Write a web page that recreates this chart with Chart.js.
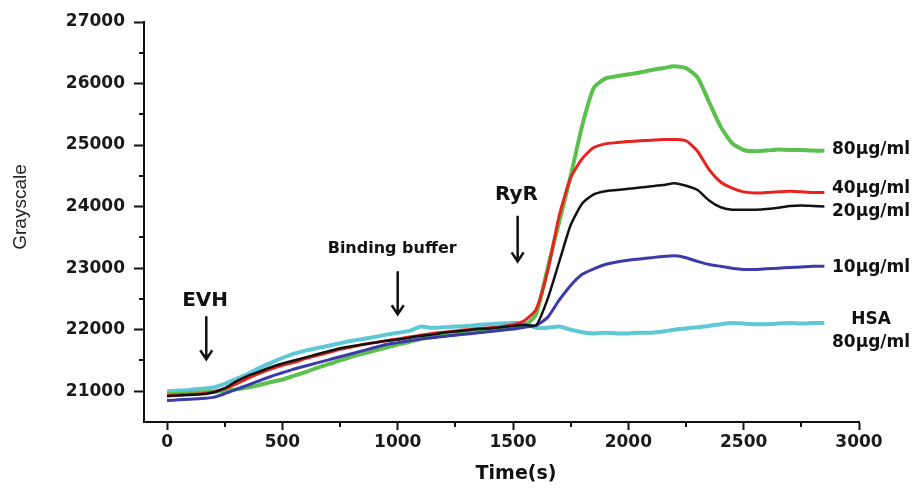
<!DOCTYPE html>
<html>
<head>
<meta charset="utf-8">
<title>Grayscale vs time</title>
<script src="https://cdn.jsdelivr.net/npm/chart.js@4.4.1/dist/chart.umd.min.js"></script>
<style>
  html, body { margin: 0; padding: 0; background: #fff; }
  #wrap { width: 919px; height: 490px; }
</style>
</head>
<body>
<div id="wrap"><canvas id="chart"></canvas></div>
<script>
// time points (s)
const times = [0, 50, 100, 150, 200, 250, 300, 350, 400, 450, 500, 550, 600, 650, 700, 750, 800, 850, 900, 950,
  1000, 1050, 1100, 1150, 1200, 1250, 1300, 1350, 1400, 1450, 1500, 1550, 1600, 1650, 1700, 1750, 1800, 1850, 1900, 1950,
  2000, 2050, 2100, 2150, 2200, 2250, 2300, 2350, 2400, 2450, 2500, 2550, 2600, 2650, 2700, 2750, 2800, 2850];

// grayscale
const evh80 = [20950, 20960, 20970, 20980, 20990, 21010, 21030, 21060, 21100, 21150, 21190, 21250, 21310, 21380, 21440, 21500, 21560, 21610, 21660, 21710,
  21760, 21800, 21850, 21880, 21910, 21940, 21960, 21980, 22000, 22020, 22040, 22060, 22250, 23000, 23750, 24500, 25320, 25930, 26080, 26120,
  26150, 26180, 26220, 26250, 26280, 26250, 26100, 25700, 25300, 25030, 24920, 24900, 24910, 24930, 24920, 24920, 24910, 24910];
const evh40 = [20930, 20940, 20950, 20960, 20990, 21040, 21120, 21210, 21290, 21360, 21420, 21470, 21530, 21580, 21630, 21680, 21720, 21760, 21790, 21820,
  21850, 21880, 21910, 21940, 21960, 21980, 22000, 22020, 22030, 22050, 22080, 22150, 22330, 22950, 23850, 24470, 24780, 24960, 25020, 25040,
  25060, 25070, 25080, 25090, 25090, 25070, 24900, 24600, 24400, 24300, 24240, 24220, 24230, 24240, 24250, 24240, 24230, 24230];
const evh20 = [20920, 20930, 20940, 20950, 20980, 21050, 21160, 21250, 21320, 21390, 21450, 21500, 21550, 21600, 21650, 21700, 21730, 21760, 21790, 21820,
  21840, 21870, 21900, 21920, 21950, 21970, 21990, 22010, 22020, 22040, 22060, 22080, 22070, 22500, 23100, 23700, 24050, 24200, 24250, 24270,
  24290, 24310, 24330, 24350, 24380, 24340, 24270, 24100, 23990, 23950, 23950, 23950, 23960, 23980, 24010, 24020, 24010, 24000];
const evh10 = [20850, 20860, 20870, 20880, 20900, 20960, 21030, 21100, 21170, 21240, 21300, 21360, 21410, 21460, 21510, 21560, 21610, 21660, 21710, 21760,
  21790, 21820, 21850, 21870, 21890, 21910, 21930, 21950, 21970, 21990, 22010, 22040, 22070, 22200, 22480, 22720, 22900, 22990, 23060, 23100,
  23130, 23150, 23170, 23190, 23200, 23170, 23110, 23060, 23030, 23000, 22980, 22980, 22990, 23000, 23010, 23020, 23030, 23030];
const hsa80 = [21000, 21010, 21020, 21040, 21060, 21120, 21200, 21280, 21380, 21460, 21540, 21610, 21660, 21700, 21740, 21780, 21820, 21850, 21880, 21920,
  21950, 21980, 22050, 22030, 22040, 22050, 22060, 22080, 22090, 22100, 22110, 22100, 22030, 22030, 22050, 22000, 21960, 21940, 21950, 21940,
  21940, 21950, 21950, 21970, 22000, 22020, 22040, 22060, 22090, 22110, 22100, 22090, 22090, 22100, 22110, 22100, 22110, 22110];

const xTicks = [0, 500, 1000, 1500, 2000, 2500, 3000];
const yTicks = [21000, 22000, 23000, 24000, 25000, 26000, 27000];

// arrows: label, x of arrow, label position, arrow top/bottom (data units)
const arrows = [
  { text: 'EVH', x: 170, tx: 165, ty: 22470, from: 22220, to: 21520, size: 20 },
  { text: 'Binding buffer', x: 1000, tx: 976, ty: 23320, from: 22950, to: 22250, size: 16 },
  { text: 'RyR', x: 1520, tx: 1515, ty: 24190, from: 23850, to: 23110, size: 20 }
];
const endLabels = [
  { text: '80\u03bcg/ml', y: 24930 },
  { text: '40\u03bcg/ml', y: 24300 },
  { text: '20\u03bcg/ml', y: 23920 },
  { text: '10\u03bcg/ml', y: 23010 },
  { text: 'HSA', y: 22170, center: true },
  { text: '80\u03bcg/ml', y: 21790 }
];

const FONT = 'DejaVu Sans';

function series(values, color, width) {
  return {
    data: times.map((t, i) => ({ x: t, y: values[i] })),
    borderColor: color,
    borderWidth: width,
    pointRadius: 0,
    tension: 0.2
  };
}

const annotatePlugin = {
  id: 'annotate',
  afterDraw(chart) {
    const ctx = chart.ctx;
    const xs = chart.scales.x, ys = chart.scales.y;
    const area = chart.chartArea;
    ctx.save();
    ctx.strokeStyle = '#111';
    ctx.lineWidth = 2;

    // minor ticks
    ctx.beginPath();
    for (let i = 0; i < yTicks.length - 1; i++) {
      const py = Math.round(ys.getPixelForValue(yTicks[i] + 500));
      ctx.moveTo(area.left, py);
      ctx.lineTo(area.left - 5, py);
    }
    for (let i = 0; i < xTicks.length - 1; i++) {
      const px = Math.round(xs.getPixelForValue(xTicks[i] + 250));
      ctx.moveTo(px, area.bottom);
      ctx.lineTo(px, area.bottom + 5);
    }
    ctx.stroke();

    // arrows and their labels
    ctx.fillStyle = '#111';
    ctx.textAlign = 'center';
    ctx.textBaseline = 'middle';
    arrows.forEach(a => {
      const px = xs.getPixelForValue(a.x);
      const y1 = ys.getPixelForValue(a.from);
      const y2 = ys.getPixelForValue(a.to);
      ctx.lineWidth = 2.5;
      ctx.beginPath();
      ctx.moveTo(px, y1);
      ctx.lineTo(px, y2);
      ctx.moveTo(px - 6, y2 - 9);
      ctx.lineTo(px, y2);
      ctx.lineTo(px + 6, y2 - 9);
      ctx.stroke();
      ctx.font = 'bold ' + a.size + 'px "' + FONT + '"';
      ctx.fillText(a.text, xs.getPixelForValue(a.tx), ys.getPixelForValue(a.ty));
    });

    // labels at the right end of the traces
    ctx.font = 'bold 17px "' + FONT + '"';
    const left = 832;
    const width80 = ctx.measureText('80\u03bcg/ml').width;
    endLabels.forEach(l => {
      const py = ys.getPixelForValue(l.y);
      if (l.center) {
        ctx.textAlign = 'center';
        ctx.fillText(l.text, left + width80 / 2, py);
      } else {
        ctx.textAlign = 'left';
        ctx.fillText(l.text, left, py);
      }
    });

    // axis titles
    ctx.textAlign = 'center';
    ctx.font = 'bold 19px "' + FONT + '"';
    ctx.fillText('Time(s)', xs.getPixelForValue(1500) + 3, 474);
    ctx.save();
    ctx.translate(21, 207);
    ctx.rotate(-Math.PI / 2);
    ctx.font = '19px "Liberation Sans"';
    ctx.fillStyle = '#222';
    ctx.fillText('Grayscale', 0, 0);
    ctx.restore();
    ctx.restore();
  }
};

new Chart(document.getElementById('chart'), {
  type: 'line',
  data: {
    datasets: [
      series(evh20, '#121212', 2.5),
      series(evh40, '#e8231f', 3),
      series(evh10, '#3a3aa8', 3),
      series(evh80, '#5cc04e', 4),
      series(hsa80, '#5ec8d6', 4)
    ]
  },
  options: {
    responsive: true,
    maintainAspectRatio: false,
    animation: false,
    layout: { padding: { top: 22, right: 60, left: 0, bottom: 0 } },
    plugins: { legend: { display: false }, tooltip: { enabled: false } },
    scales: {
      x: {
        type: 'linear',
        min: -100,
        max: 3000,
        afterFit: s => { s.height = 68; },
        border: { color: '#111', width: 2 },
        grid: { drawOnChartArea: false, tickLength: 8, tickColor: '#111', tickWidth: 2 },
        afterBuildTicks: s => { s.ticks = xTicks.map(v => ({ value: v })); },
        ticks: {
          autoSkip: false,
          maxRotation: 0,
          padding: 2,
          color: '#1a1a1a',
          font: { family: FONT, weight: 'bold', size: 17 },
          callback: v => String(v)
        }
      },
      y: {
        min: 20500,
        max: 27000,
        afterFit: s => { s.width = 144; },
        border: { color: '#111', width: 2 },
        grid: { drawOnChartArea: false, tickLength: 10, tickColor: '#111', tickWidth: 2 },
        afterBuildTicks: s => { s.ticks = yTicks.map(v => ({ value: v })); },
        ticks: {
          padding: 9,
          color: '#1a1a1a',
          font: { family: FONT, weight: 'bold', size: 17 },
          callback: v => String(v)
        }
      }
    }
  },
  plugins: [annotatePlugin]
});
</script>
</body>
</html>
